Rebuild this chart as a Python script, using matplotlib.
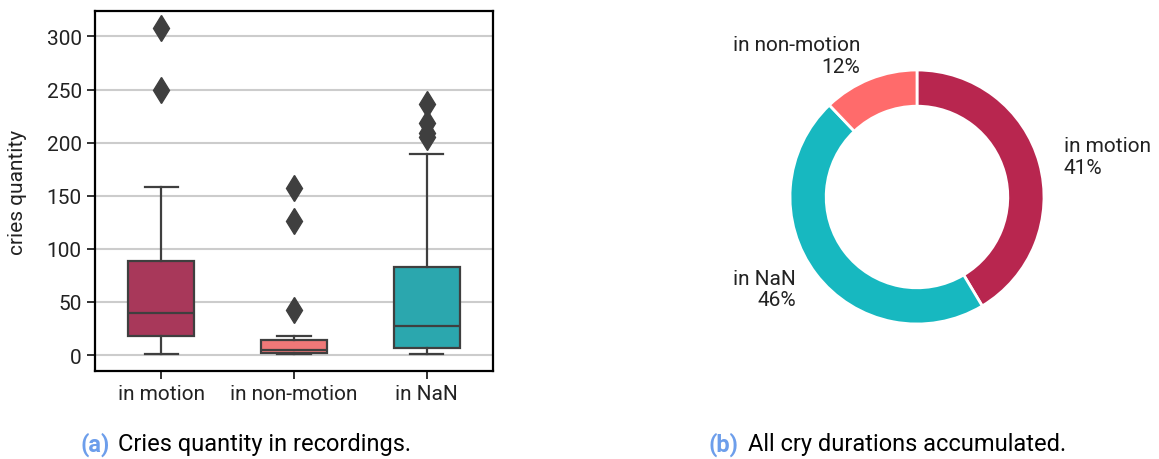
import matplotlib.pyplot as plt

plt.rcParams['font.family'] = ['Roboto', 'DejaVu Sans']

# box plot stats
categories = ['in motion', 'in non-motion', 'in NaN']
whislo = [1, 1, 1]
q1 = [18, 2, 7]
medians = [40, 5, 27]
q3 = [89, 14, 83]
whishi = [158, 18, 189]
fliers = [[250, 308], [42, 126, 157], [205, 209, 219, 236]]
box_colors = ['#A8385A', '#F07878', '#2BA7AE']

# donut shares (percent)
shares = [41, 46, 12]
share_labels = ['in motion', 'in NaN', 'in non-motion']
pie_colors = ['#B8264F', '#17B8C0', '#FF6B6B']

W, H = 1159, 460
fig = plt.figure(figsize=(W / 100, H / 100), dpi=100)

ax = fig.add_axes([95 / W, (H - 372) / H, 398 / W, 360 / H])
stats = []
for i, name in enumerate(categories):
    stats.append(dict(label=name, whislo=whislo[i], q1=q1[i], med=medians[i],
                      q3=q3[i], whishi=whishi[i], fliers=fliers[i]))
dark = '#3f3f3f'
bp = ax.bxp(stats, widths=0.5, patch_artist=True,
            boxprops=dict(edgecolor=dark, linewidth=1.6),
            medianprops=dict(color=dark, linewidth=1.6),
            whiskerprops=dict(color=dark, linewidth=1.6),
            capprops=dict(color=dark, linewidth=1.6),
            flierprops=dict(marker='d', markerfacecolor=dark, markeredgecolor=dark,
                            markersize=13))
for patch, c in zip(bp['boxes'], box_colors):
    patch.set_facecolor(c)
ax.set_ylim(-15, 324)
ax.set_yticks([0, 50, 100, 150, 200, 250, 300])
ax.yaxis.grid(True, color='#cccccc', linewidth=1.5)
ax.set_axisbelow(True)
ax.tick_params(labelsize=15, length=6, width=1.3, color='#222222', labelcolor='#222222')
ax.set_ylabel('cries quantity', fontsize=15, color='#222222')
ax.yaxis.set_label_coords(-0.17, 0.5)
for s in ax.spines.values():
    s.set_linewidth(1.6)
    s.set_color('black')

# donut
r = 127
size = 3 * r
ax2 = fig.add_axes([(917 - size / 2) / W, (H - 198 - size / 2) / H, size / W, size / H])
labels = [f'{n}\n{p}%' for n, p in zip(share_labels, shares)]
wedges, texts = ax2.pie(shares, labels=labels, colors=pie_colors, startangle=90,
                        counterclock=False, labeldistance=1.2,
                        wedgeprops=dict(width=0.285, edgecolor='white', linewidth=2),
                        textprops=dict(fontsize=15, linespacing=1.15, color='#222222'))
ax2.set_xlim(-1.5, 1.5)
ax2.set_ylim(-1.5, 1.5)
ax2.set_aspect('equal')

# captions
blue = '#6D9EEB'
cy = 1 - 445 / H
fig.text(80 / W, cy, '(a)', color=blue, fontsize=17, fontweight='bold', va='center')
fig.text(118 / W, cy, 'Cries quantity in recordings.', fontsize=17, va='center')
fig.text(709 / W, cy, '(b)', color=blue, fontsize=17, fontweight='bold', va='center')
fig.text(748 / W, cy, 'All cry durations accumulated.', fontsize=17, va='center')

fig.savefig('out.png', dpi=100)
